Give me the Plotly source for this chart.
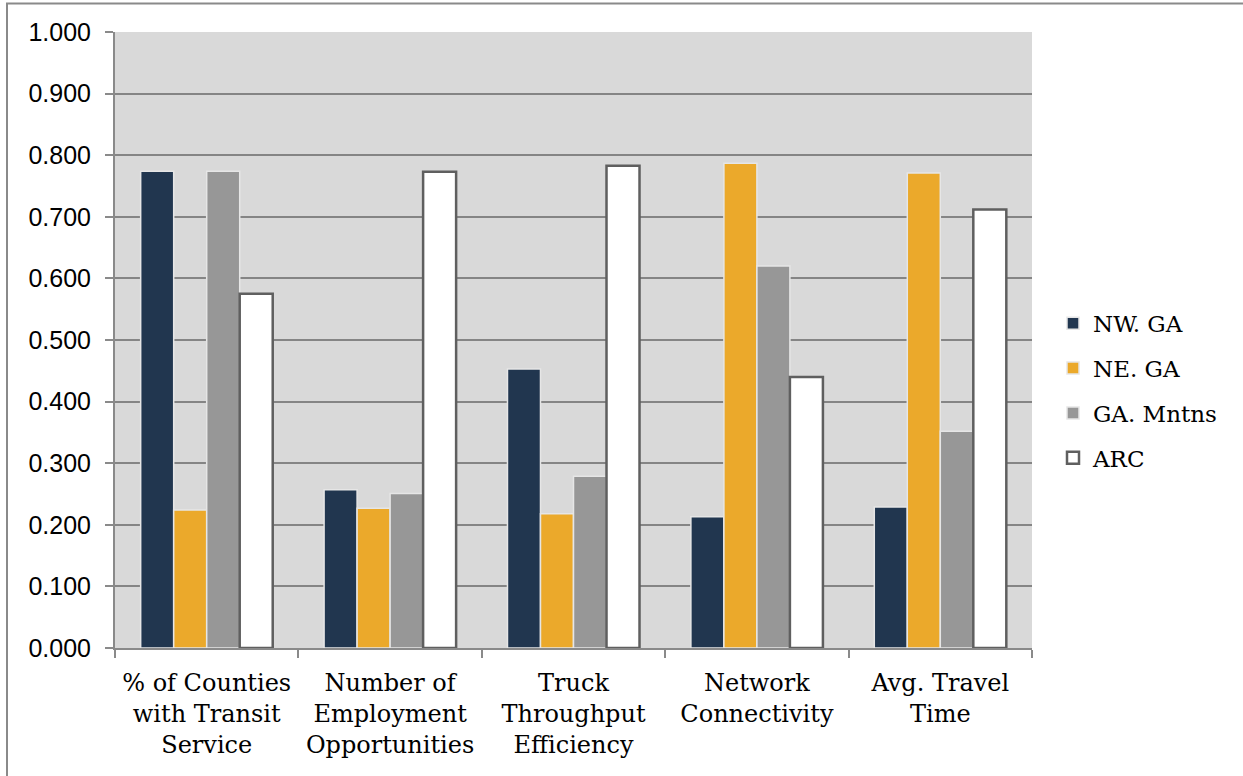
import plotly.graph_objects as go

categories = [
    "% of Counties<br>with Transit<br>Service",
    "Number of<br>Employment<br>Opportunities",
    "Truck<br>Throughput<br>Efficiency",
    "Network<br>Connectivity",
    "Avg. Travel<br>Time",
]
series_names = ["NW. GA", "NE. GA", "GA. Mntns", "ARC"]
nw_ga = [0.774, 0.257, 0.453, 0.213, 0.229]
ne_ga = [0.224, 0.227, 0.218, 0.787, 0.771]
ga_mntns = [0.774, 0.251, 0.279, 0.620, 0.352]
arc = [0.575, 0.773, 0.783, 0.440, 0.712]
y_ticks = [0, 0.1, 0.2, 0.3, 0.4, 0.5, 0.6, 0.7, 0.8, 0.9, 1.0]

values = [nw_ga, ne_ga, ga_mntns, arc]
fills = ["#21364F", "#EBA92B", "#979797", "#FFFFFF"]
edges = ["#E6E6E6", "#E6E6E6", "#E6E6E6", "#5F5F5F"]
edge_w = [1.5, 1.5, 1.5, 2.5]

W, H = 1243, 776
L, R, T, B = 115, 211, 32, 127.5

fig = go.Figure()
for i, name in enumerate(series_names):
    fig.add_trace(go.Bar(
        x=categories, y=values[i], name=name,
        marker=dict(color=fills[i], line=dict(color=edges[i], width=edge_w[i])),
        legendgroup=name,
    ))

pw = W - L - R
ph = H - T - B
fig.add_shape(type="rect", xref="paper", yref="paper",
              x0=(7 - L) / pw, x1=(W + 10 - L) / pw,
              y0=-(H + 10 - T - ph) / ph, y1=(H - B - 3.5) / ph,
              line=dict(color="#8A8A8A", width=2), fillcolor="rgba(0,0,0,0)", layer="below")

fig.update_layout(
    width=W, height=H,
    margin=dict(l=L, r=R, t=T, b=B, pad=0),
    paper_bgcolor="white",
    plot_bgcolor="#D9D9D9",
    barmode="group",
    bargap=0.28,
    bargroupgap=0,
    showlegend=True,
    legend=dict(
        x=(1053 - L) / pw, y=(H - B - 391) / ph, xanchor="left", yanchor="middle",
        font=dict(family="DejaVu Serif", size=23, color="black"),
        traceorder="grouped", tracegroupgap=12,
        bgcolor="rgba(0,0,0,0)", itemwidth=30,
    ),
    xaxis=dict(
        showline=True, linecolor="#8A8A8A", linewidth=2,
        ticks="outside", tickson="boundaries", ticklen=8, tickcolor="#8A8A8A", tickwidth=2,
        tickfont=dict(family="DejaVu Serif", size=24, color="black"),
        ticklabelstandoff=12,
        showgrid=False,
    ),
    yaxis=dict(
        range=[0, 1.0], tickvals=y_ticks, tickformat=".3f",
        showline=True, linecolor="#8A8A8A", linewidth=2,
        ticks="outside", ticklen=8, tickcolor="#8A8A8A", tickwidth=2,
        tickfont=dict(family="Liberation Sans", size=25, color="black"),
        ticklabelstandoff=9,
        showgrid=True, gridcolor="#858585", gridwidth=2,
        zeroline=False,
    ),
)

fig.write_html("out.html")
